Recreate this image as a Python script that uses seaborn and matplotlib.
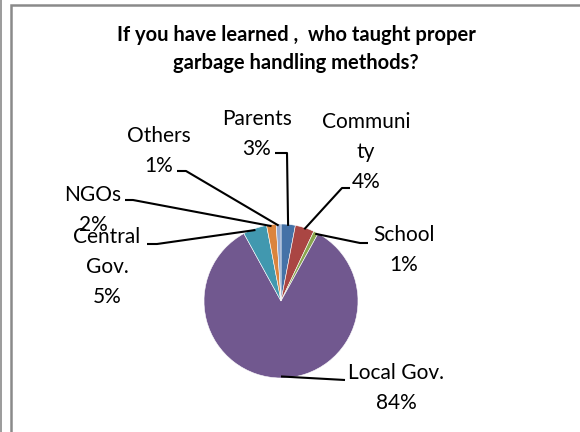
import matplotlib
matplotlib.use("Agg")
import matplotlib.pyplot as plt
import seaborn as sns
import numpy as np

# Dados
categorias = ["Parents", "Community", "School", "Local Gov.", "Central Gov.", "NGOs", "Others"]
rotulos = ["Parents", "Communi\nty", "School", "Local Gov.", "Central\nGov.", "NGOs", "Others"]
percentuais = [3, 4, 1, 84, 5, 2, 1]
cores = ["#4572A7", "#AA4643", "#89A54E", "#71588F", "#4198AF", "#DB843D", "#93A9CF"]

titulo = "If you have learned ,  who taught proper\ngarbage handling methods?"

# Layout (pixels): centro do texto, início da linha guia, cotovelo
pos_texto = [(257, 134), (366, 152), (404, 250), (396, 388), (107, 267), (93, 210), (159, 151)]
linha_inicio = [(275, 153), (350, 188), (368, 243), (345, 380), (147, 244), (125, 200), (177, 171)]
linha_cotovelo = [(287, 153), (342, 188), (360, 243), (345, 380), (157, 244), (133, 200), (186, 171)]

sns.set_theme(style="white")
plt.rcParams["font.family"] = ["Lato", "DejaVu Sans"]

W, H = 580, 432
fig = plt.figure(figsize=(W / 100, H / 100), dpi=100)
ax = fig.add_axes([0, 0, 1, 1])

centro = (281, 301)
raio = 77
fatias, _ = ax.pie(percentuais, colors=cores, center=centro, radius=raio,
                   startangle=-90, counterclock=True,
                   wedgeprops=dict(edgecolor="white", linewidth=0.4))

ax.set_xlim(0, W)
ax.set_ylim(H, 0)
ax.set_aspect("equal")
ax.axis("off")

# Rótulos e linhas guia
for fatia, nome, pct, (tx, ty), (x0, y0), (xc, yc) in zip(
        fatias, rotulos, percentuais, pos_texto, linha_inicio, linha_cotovelo):
    ang = np.deg2rad((fatia.theta1 + fatia.theta2) / 2)
    xs = centro[0] + raio * 0.98 * np.cos(ang)
    ys = centro[1] + raio * 0.98 * np.sin(ang)
    ax.plot([x0, xc, xs], [y0, yc, ys], color="black", lw=1.5,
            solid_capstyle="butt", zorder=3)
    ax.text(tx, ty, f"{nome}\n{pct}%", ha="center", va="center",
            fontsize=15, linespacing=1.62, color="black", zorder=4)

# Título
ax.text(296, 49, titulo, ha="center", va="center", fontsize=14.5,
        fontweight="bold", linespacing=1.45, color="black")

# Moldura
cinza = "#8a8a8a"
ax.plot([11, 11, W], [H, 5, 5], color=cinza, lw=1.8, solid_capstyle="butt",
        solid_joinstyle="miter")
ax.plot([0.7, 0.7], [0, H], color=cinza, lw=1.2)

fig.savefig("out.png", dpi=100)
